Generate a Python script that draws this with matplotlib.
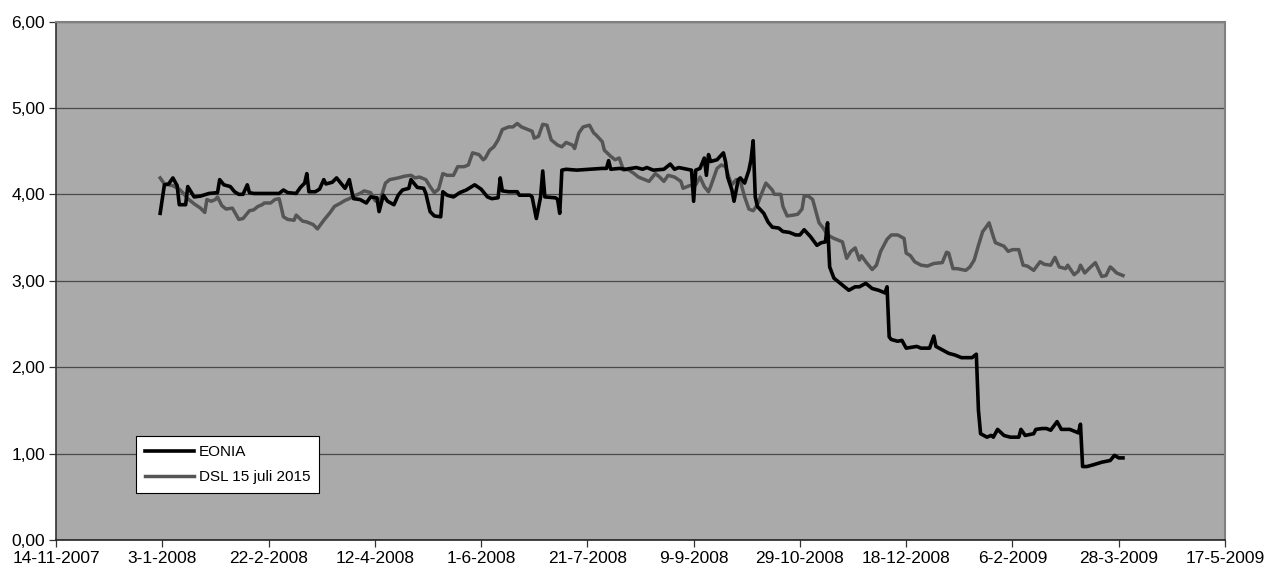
import pandas as pd
import numpy as np
import matplotlib
matplotlib.use("Agg")
import matplotlib.pyplot as plt

# dagen sinds 1-1-2008 en rentes (in %)
eonia_dag = [1, 3, 5, 7, 9, 10, 13, 14, 15, 17, 20, 24, 28, 29, 31, 34, 36, 38, 40, 42,
             43, 45, 57, 59, 61, 65, 67, 69, 70, 71, 74, 76, 78, 79, 82, 84, 86, 88, 90, 91,
             92, 95, 98, 100, 103, 104, 106, 108, 111, 113, 115, 118, 119, 121, 122, 125, 126, 128, 130, 133,
             134, 136, 139, 142, 145, 149, 152, 155, 157, 160, 161, 162, 165, 169, 170, 175, 176, 178, 180, 181,
             182, 187, 188, 189, 190, 192, 197, 203, 209, 211, 212, 213, 217, 220, 225, 228, 230, 233, 238, 241,
             243, 245, 249, 251, 252, 253, 255, 257, 258, 259, 260, 263, 266, 267, 268, 270, 271, 273, 274, 276,
             278, 279, 280, 281, 282, 285, 287, 289, 292, 294, 297, 300, 302, 304, 307, 310, 312, 314, 315, 316,
             318, 321, 325, 328, 330, 333, 336, 339, 342, 343, 344, 345, 348, 350, 352, 357, 359, 363, 365, 366,
             369, 372, 375, 378, 383, 385, 386, 387, 390, 392, 393, 395, 398, 401, 405, 406, 408, 412, 413, 416,
             418, 420, 423, 425, 429, 433, 434, 435, 437, 440, 444, 448, 450, 452, 454]
eonia = [3.78, 4.11, 4.12, 4.19, 4.10, 3.88, 3.88, 4.09, 4.05, 3.97, 3.98, 4.01, 4.02, 4.17, 4.11, 4.09, 4.03, 4.00, 4.00, 4.11,
         4.02, 4.01, 4.01, 4.05, 4.02, 4.01, 4.08, 4.13, 4.24, 4.03, 4.03, 4.06, 4.17, 4.12, 4.14, 4.19, 4.13, 4.07, 4.17, 4.05,
         3.95, 3.94, 3.90, 3.97, 3.96, 3.80, 3.99, 3.92, 3.88, 3.99, 4.05, 4.07, 4.17, 4.11, 4.08, 4.07, 4.01, 3.80, 3.75, 3.74,
         4.03, 3.99, 3.97, 4.02, 4.05, 4.11, 4.06, 3.97, 3.95, 3.96, 4.19, 4.04, 4.03, 4.03, 3.99, 3.99, 3.97, 3.72, 3.97, 4.27,
         3.97, 3.96, 3.94, 3.78, 4.28, 4.29, 4.28, 4.29, 4.30, 4.30, 4.39, 4.29, 4.30, 4.29, 4.31, 4.29, 4.31, 4.28, 4.29, 4.35,
         4.29, 4.31, 4.29, 4.28, 3.92, 4.28, 4.30, 4.42, 4.22, 4.46, 4.38, 4.40, 4.48, 4.38, 4.20, 4.05, 3.92, 4.17, 4.19, 4.13,
         4.28, 4.40, 4.62, 3.97, 3.86, 3.78, 3.68, 3.62, 3.61, 3.57, 3.56, 3.53, 3.53, 3.59, 3.51, 3.41, 3.44, 3.45, 3.67, 3.16,
         3.03, 2.97, 2.89, 2.93, 2.93, 2.97, 2.91, 2.89, 2.86, 2.93, 2.35, 2.32, 2.30, 2.31, 2.22, 2.24, 2.22, 2.22, 2.36, 2.24,
         2.20, 2.16, 2.14, 2.11, 2.11, 2.15, 1.50, 1.23, 1.19, 1.21, 1.19, 1.28, 1.21, 1.19, 1.19, 1.28, 1.21, 1.23, 1.28, 1.29,
         1.29, 1.27, 1.37, 1.28, 1.28, 1.24, 1.34, 0.85, 0.85, 0.87, 0.90, 0.92, 0.98, 0.95, 0.95]

dsl_dag = [1, 3, 5, 7, 10, 12, 14, 17, 20, 22, 23, 25, 27, 28, 30, 32, 35, 38, 40, 43,
           45, 47, 49, 50, 53, 55, 57, 59, 61, 64, 65, 68, 70, 73, 75, 78, 81, 83, 86, 88,
           90, 93, 95, 97, 100, 102, 104, 105, 107, 109, 113, 116, 119, 121, 123, 126, 128, 130, 132, 134,
           136, 139, 141, 144, 146, 148, 151, 153, 154, 156, 158, 160, 162, 165, 167, 169, 171, 174, 176, 177,
           179, 181, 183, 185, 188, 190, 192, 195, 196, 198, 200, 203, 205, 206, 209, 210, 213, 215, 217, 219,
           221, 224, 226, 229, 231, 234, 236, 238, 240, 243, 246, 247, 250, 253, 255, 257, 259, 260, 263, 265,
           267, 269, 270, 272, 274, 276, 278, 280, 282, 284, 286, 289, 290, 293, 294, 296, 299, 301, 303, 304,
           306, 308, 311, 313, 315, 318, 322, 324, 326, 328, 330, 331, 333, 336, 338, 340, 343, 345, 348, 351,
           352, 354, 356, 359, 362, 365, 369, 371, 372, 374, 376, 380, 382, 384, 386, 388, 389, 391, 393, 394,
           398, 400, 402, 405, 407, 409, 412, 415, 417, 420, 422, 424, 427, 428, 431, 433, 434, 436, 438, 441,
           444, 446, 448, 449, 451, 454]
dsl = [4.19, 4.12, 4.11, 4.10, 4.06, 4.01, 3.95, 3.89, 3.84, 3.79, 3.94, 3.92, 3.94, 3.97, 3.87, 3.83, 3.84, 3.71, 3.72, 3.81,
       3.82, 3.86, 3.88, 3.90, 3.90, 3.94, 3.95, 3.74, 3.71, 3.70, 3.76, 3.69, 3.68, 3.65, 3.60, 3.70, 3.79, 3.86, 3.90, 3.93,
       3.95, 3.99, 4.01, 4.04, 4.02, 3.93, 3.90, 3.97, 4.13, 4.17, 4.19, 4.21, 4.22, 4.19, 4.20, 4.17, 4.09, 4.02, 4.06, 4.24,
       4.22, 4.22, 4.32, 4.32, 4.34, 4.48, 4.46, 4.40, 4.42, 4.51, 4.55, 4.63, 4.75, 4.78, 4.78, 4.82, 4.78, 4.75, 4.73, 4.65,
       4.67, 4.81, 4.80, 4.63, 4.57, 4.55, 4.60, 4.57, 4.53, 4.71, 4.78, 4.80, 4.71, 4.69, 4.61, 4.51, 4.44, 4.40, 4.42, 4.28,
       4.29, 4.24, 4.20, 4.17, 4.15, 4.24, 4.20, 4.15, 4.22, 4.20, 4.15, 4.07, 4.10, 4.11, 4.20, 4.09, 4.03, 4.09, 4.30, 4.34,
       4.32, 4.17, 4.11, 4.17, 4.15, 3.97, 3.83, 3.81, 3.88, 4.01, 4.13, 4.05, 4.00, 4.00, 3.86, 3.75, 3.76, 3.77, 3.83, 3.98,
       3.98, 3.94, 3.67, 3.61, 3.53, 3.49, 3.45, 3.26, 3.34, 3.38, 3.24, 3.29, 3.22, 3.13, 3.18, 3.34, 3.48, 3.53, 3.53, 3.49,
       3.32, 3.29, 3.22, 3.18, 3.17, 3.20, 3.21, 3.33, 3.32, 3.14, 3.14, 3.12, 3.16, 3.24, 3.41, 3.57, 3.60, 3.67, 3.51, 3.44,
       3.40, 3.34, 3.36, 3.36, 3.18, 3.17, 3.12, 3.22, 3.19, 3.18, 3.27, 3.16, 3.14, 3.18, 3.07, 3.11, 3.18, 3.09, 3.14, 3.21,
       3.05, 3.06, 3.16, 3.14, 3.09, 3.06]

start = pd.Timestamp("2008-01-01")
eonia_datum = start + pd.to_timedelta(eonia_dag, unit="D")
dsl_datum = start + pd.to_timedelta(dsl_dag, unit="D")

# x-as: elke 50 dagen vanaf 14-11-2007
x_ticks = pd.date_range("2007-11-14", "2009-05-17", freq="50D")

plt.rcParams["font.family"] = ["Liberation Sans", "DejaVu Sans"]

fig = plt.figure(figsize=(12.67, 5.73), dpi=100)
ax = fig.add_axes([56 / 1267, 33 / 573, 1169 / 1267, 518.5 / 573])
ax.set_facecolor("#aaaaaa")

ax.plot(eonia_datum, eonia, color="black", linewidth=2.6, label="EONIA", zorder=3)
ax.plot(dsl_datum, dsl, color="#555555", linewidth=2.5, label="DSL 15 juli 2015", zorder=2)

ax.set_xlim(x_ticks[0], x_ticks[-1])
ax.set_ylim(0, 6)
ax.set_xticks(x_ticks)
ax.set_xticklabels([f"{d.day}-{d.month}-{d.year}" for d in x_ticks])
ax.set_yticks(np.arange(0, 7, 1))
ax.set_yticklabels([f"{v:.2f}".replace(".", ",") for v in np.arange(0, 7, 1)])

ax.grid(axis="y", color="#4a4a4a", linewidth=0.9)
ax.set_axisbelow(True)
ax.tick_params(labelsize=12.5, length=5, width=0.9, color="#333333", pad=3)

ax.spines["left"].set_color("#333333")
ax.spines["bottom"].set_color("#222222")
ax.spines["left"].set_linewidth(1.2)
ax.spines["bottom"].set_linewidth(1.2)
ax.spines["right"].set_color("#808080")
ax.spines["top"].set_color("#808080")
ax.spines["right"].set_linewidth(1.5)
ax.spines["top"].set_linewidth(1.5)

leg = ax.legend(loc="upper left", bbox_to_anchor=(136 / 1267, 1 - 436 / 573),
                bbox_transform=fig.transFigure, borderaxespad=0, fancybox=False,
                framealpha=1, edgecolor="black", fontsize=11, handlelength=3.2,
                handletextpad=0.3, borderpad=0.6, labelspacing=0.7)
leg.get_frame().set_linewidth(0.8)

fig.savefig("out.png", dpi=100)
